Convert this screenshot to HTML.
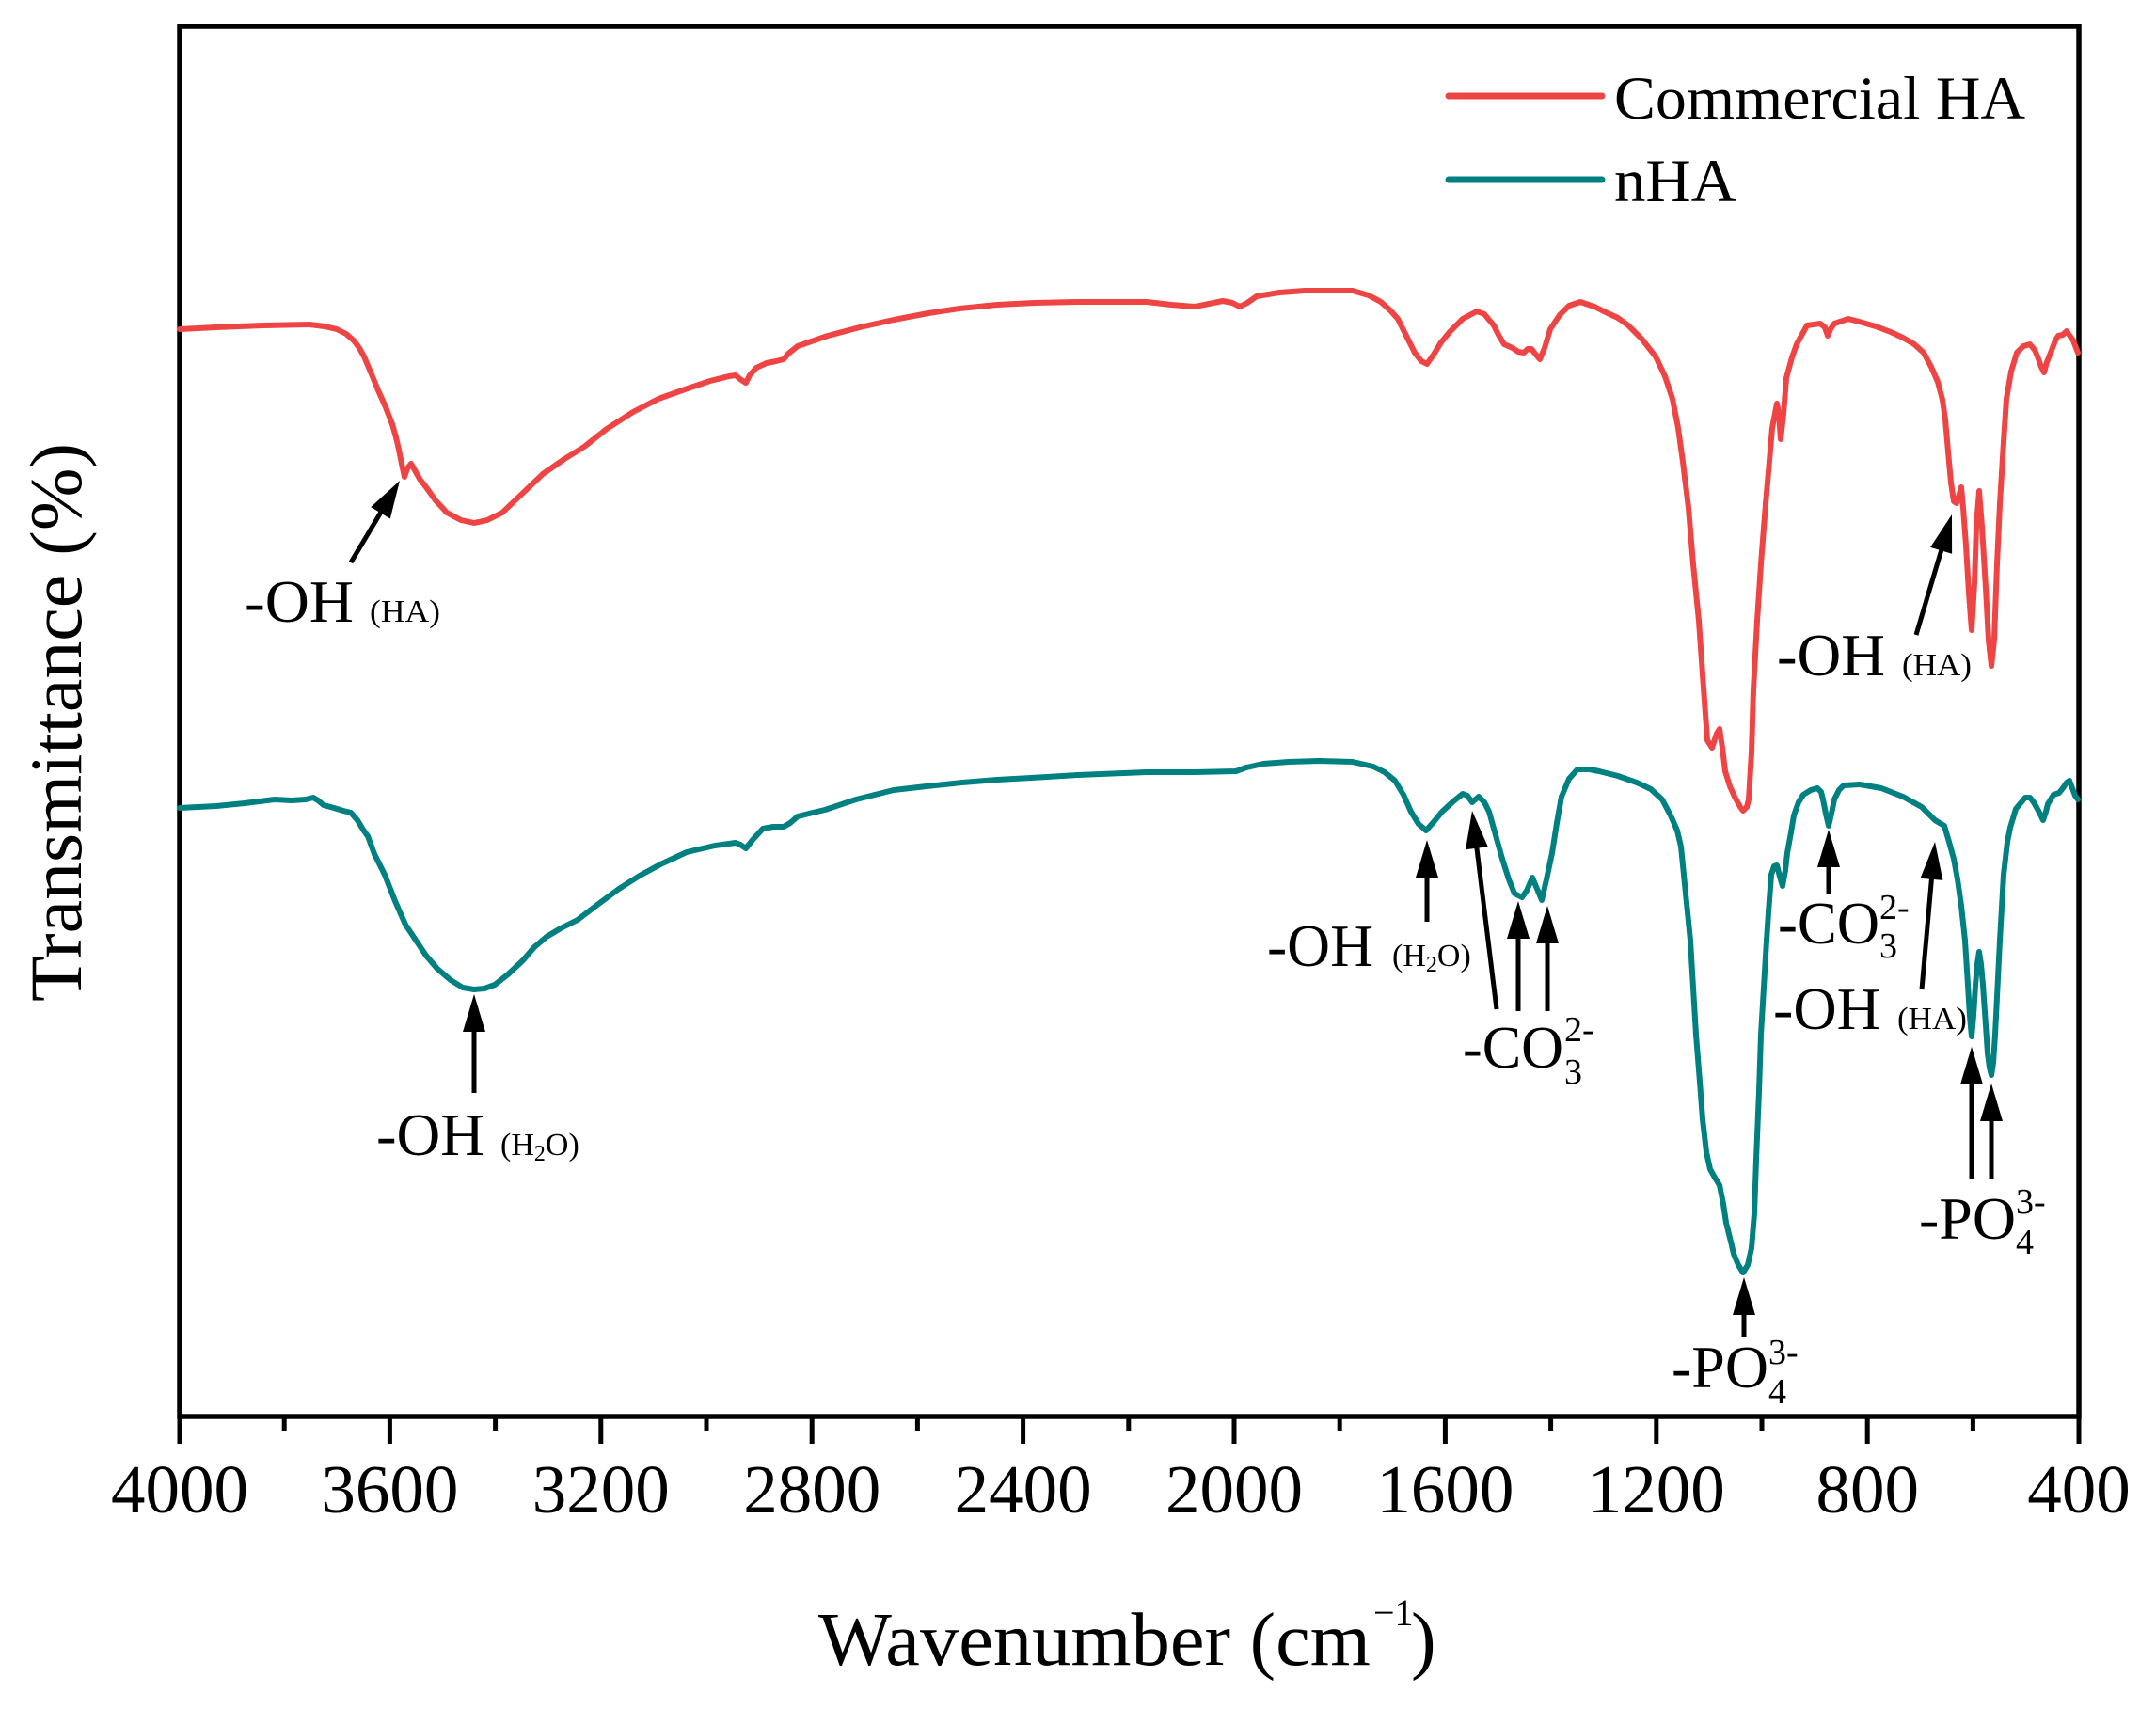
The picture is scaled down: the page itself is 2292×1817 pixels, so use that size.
<!DOCTYPE html>
<html>
<head>
<meta charset="utf-8">
<style>
html,body{margin:0;padding:0;background:#fff;}
svg{display:block;}
text{font-family:"Liberation Serif","DejaVu Serif",serif;fill:#000;}
</style>
</head>
<body>
<svg xmlns="http://www.w3.org/2000/svg" width="2292" height="1817" viewBox="0 0 2292 1817">
<rect x="0" y="0" width="2292" height="1817" fill="#fff"/>

<!-- Frame -->
<rect x="191" y="28" width="2019" height="1478" fill="none" stroke="#000" stroke-width="5.5"/>

<!-- Ticks -->
<g stroke="#000" stroke-width="5">
<line x1="191" y1="1506" x2="191" y2="1535"/>
<line x1="414.4" y1="1506" x2="414.4" y2="1535"/>
<line x1="638.8" y1="1506" x2="638.8" y2="1535"/>
<line x1="863.2" y1="1506" x2="863.2" y2="1535"/>
<line x1="1087.6" y1="1506" x2="1087.6" y2="1535"/>
<line x1="1312" y1="1506" x2="1312" y2="1535"/>
<line x1="1536.4" y1="1506" x2="1536.4" y2="1535"/>
<line x1="1760.8" y1="1506" x2="1760.8" y2="1535"/>
<line x1="1985.2" y1="1506" x2="1985.2" y2="1535"/>
<line x1="2210" y1="1506" x2="2210" y2="1535"/>
<line x1="302.2" y1="1506" x2="302.2" y2="1521"/>
<line x1="526.6" y1="1506" x2="526.6" y2="1521"/>
<line x1="751" y1="1506" x2="751" y2="1521"/>
<line x1="975.4" y1="1506" x2="975.4" y2="1521"/>
<line x1="1199.8" y1="1506" x2="1199.8" y2="1521"/>
<line x1="1424.2" y1="1506" x2="1424.2" y2="1521"/>
<line x1="1648.6" y1="1506" x2="1648.6" y2="1521"/>
<line x1="1873" y1="1506" x2="1873" y2="1521"/>
<line x1="2097.4" y1="1506" x2="2097.4" y2="1521"/>
</g>

<!-- Tick labels -->
<g font-size="73" text-anchor="middle">
<text x="191" y="1608">4000</text>
<text x="414.4" y="1608">3600</text>
<text x="638.8" y="1608">3200</text>
<text x="863.2" y="1608">2800</text>
<text x="1087.6" y="1608">2400</text>
<text x="1312" y="1608">2000</text>
<text x="1536.4" y="1608">1600</text>
<text x="1760.8" y="1608">1200</text>
<text x="1985.2" y="1608">800</text>
<text x="2210" y="1608">400</text>
</g>

<!-- Axis labels -->
<text x="870" y="1770" font-size="80" textLength="587" lengthAdjust="spacingAndGlyphs">Wavenumber (cm</text>
<text x="1460" y="1728" font-size="40">−1</text>
<text x="1500" y="1770" font-size="80">)</text>

<text transform="translate(86,768) rotate(-90)" font-size="78" text-anchor="middle" textLength="594" lengthAdjust="spacingAndGlyphs">Transmittance (%)</text>

<!-- Legend -->
<line x1="1540" y1="102" x2="1703" y2="102" stroke="#EF4444" stroke-width="7" stroke-linecap="round"/>
<text x="1716" y="126" font-size="65" textLength="437" lengthAdjust="spacingAndGlyphs">Commercial HA</text>
<line x1="1540" y1="191" x2="1703" y2="191" stroke="#008080" stroke-width="7" stroke-linecap="round"/>
<text x="1716" y="214" font-size="65" textLength="130" lengthAdjust="spacingAndGlyphs">nHA</text>

<!-- Red curve: Commercial HA -->
<polyline fill="none" stroke="#EF4444" stroke-width="6" stroke-linejoin="round" stroke-linecap="round" points="
191,350 230,348 280,346 329,345 345,347 358,350 368,355 376,362 382,370 387,379 395,398 402,415 410,433 417,451 421,465 424,478 427,493 430,507 433,498 437,493 441,500 446,509 453,518 463,532 475,545 490,553 504,556 518,553 534,545 555,525 577,504 600,488 621,475 645,456 673,438 700,424 731,413 755,405 775,400 782,399 788,404 793,407 797,399 804,391 815,386 825,384 833,382 838,376 848,368 880,357 914,348 950,340 987,333 1020,328 1060,324 1100,322 1146,321 1219,321 1245,324 1270,326 1300,320 1310,322 1318,326 1326,322 1336,315 1360,311 1387,309 1415,309 1438,309 1455,314 1468,321 1478,330 1486,339 1495,357 1504,375 1511,384 1517,387 1524,377 1532,364 1541,353 1555,339 1570,331 1578,334 1588,346 1593,356 1599,366 1608,370 1614,374 1620,375 1624,371 1628,371 1632,376 1637,382 1642,370 1648,350 1658,335 1668,325 1680,321 1695,326 1709,333 1720,338 1731,346 1745,360 1760,379 1770,400 1778,424 1784,455 1789,491 1795,540 1800,600 1806,660 1810,717 1815,787 1820,795 1825,780 1828,775 1831,795 1834,820 1839,836 1844,847 1850,858 1853,862 1857,858 1859,850 1862,800 1864,733 1868,660 1872,600 1877,536 1881,490 1884,455 1889,429 1891,440 1893,467 1896,440 1899,402 1905,380 1910,366 1921,346 1935,344 1940,348 1943,357 1946,350 1950,344 1965,339 1980,343 1994,347 2010,353 2023,359 2035,366 2045,375 2053,390 2060,406 2065,425 2068,446 2071,480 2074,513 2077,533 2080,535 2083,525 2085,518 2087,540 2090,580 2093,630 2096,670 2099,620 2101,560 2104,522 2107,560 2111,625 2114,680 2117,708 2120,680 2123,600 2126,536 2130,470 2133,424 2138,395 2144,375 2151,368 2158,366 2163,372 2166,379 2170,390 2173,396 2176,385 2180,375 2185,362 2188,357 2193,356 2197,352 2199,355 2204,362 2209,375"/>

<!-- Teal curve: nHA -->
<polyline fill="none" stroke="#008080" stroke-width="6" stroke-linejoin="round" stroke-linecap="round" points="
191,859 230,857 260,854 292,850 310,851 325,850 333,848 338,851 344,856 355,859 365,862 373,864 380,872 386,882 391,889 398,908 404,920 409,930 420,958 431,983 441,998 453,1016 465,1030 479,1042 492,1050 504,1052 515,1051 526,1047 540,1036 556,1021 568,1007 581,996 596,987 614,978 635,962 658,945 680,931 702,919 730,906 760,899 775,897 782,896 787,898 793,902 800,893 811,881 822,879 833,879 840,875 848,868 860,865 877,861 910,850 950,840 985,836 1023,832 1060,829 1096,827 1146,824 1219,821 1270,821 1314,820 1325,816 1343,812 1370,810 1402,809 1438,810 1460,815 1472,821 1483,830 1492,845 1500,863 1508,876 1516,883 1524,874 1533,863 1545,852 1555,844 1560,846 1565,853 1572,847 1578,853 1583,863 1590,888 1597,913 1604,935 1610,950 1618,954 1623,947 1629,933 1634,945 1639,957 1644,935 1650,907 1655,875 1660,847 1668,828 1677,818 1690,818 1700,820 1720,825 1740,832 1755,839 1767,850 1776,867 1783,883 1787,900 1791,940 1797,1000 1800,1050 1803,1100 1807,1150 1810,1190 1814,1225 1818,1243 1823,1252 1828,1260 1832,1280 1835,1300 1840,1320 1843,1333 1848,1345 1853,1353 1858,1345 1862,1327 1865,1290 1867,1233 1870,1160 1872,1100 1875,1050 1878,1000 1880,970 1883,930 1886,921 1889,920 1892,932 1895,942 1898,925 1900,907 1904,885 1907,867 1912,853 1917,845 1925,840 1932,838 1936,842 1938,850 1941,865 1944,878 1947,865 1950,850 1955,840 1960,835 1977,834 2000,838 2023,847 2043,858 2057,872 2067,878 2072,895 2077,913 2081,935 2085,963 2089,1000 2092,1047 2094,1080 2096,1102 2098,1080 2100,1047 2102,1025 2104,1012 2106,1025 2108,1047 2111,1090 2113,1120 2115,1135 2117,1143 2119,1130 2121,1100 2123,1060 2126,1000 2130,930 2134,895 2137,880 2143,860 2153,848 2158,848 2162,853 2167,862 2172,872 2175,863 2177,855 2183,845 2189,843 2193,838 2197,832 2200,830 2203,838 2206,846 2209,850"/>

<!-- Arrows -->
<g stroke="#000" stroke-width="5" fill="none">
<!-- red left -->
<line x1="373" y1="598" x2="409.6" y2="536.7"/>
<!-- red right -->
<line x1="2037" y1="675" x2="2066.5" y2="575.8"/>
<!-- teal verticals -->
<line x1="504" y1="1162" x2="504" y2="1090"/>
<line x1="1517" y1="980" x2="1517" y2="926"/>
<line x1="1614" y1="1075" x2="1614" y2="991"/>
<line x1="1645" y1="1075" x2="1645" y2="996"/>
<line x1="1854" y1="1422" x2="1854" y2="1391"/>
<line x1="1944" y1="950" x2="1944" y2="915"/>
<line x1="2096" y1="1253" x2="2096" y2="1146"/>
<line x1="2117" y1="1253" x2="2117" y2="1185"/>
<!-- slanted -->
<line x1="1591" y1="1073" x2="1568.7" y2="891.8"/>
<line x1="2043" y1="1052" x2="2054.3" y2="924.9"/>
</g>
<g fill="#000">
<polygon points="425,511 414.8,551.5 394.2,539.1"/>
<polygon points="2075,547 2075.1,588.8 2052.1,581.9"/>
<polygon points="504,1057 492,1097 516,1097"/>
<polygon points="1517,893 1505,933 1529,933"/>
<polygon points="1614,958 1602,998 1626,998"/>
<polygon points="1645,963 1633,1003 1657,1003"/>
<polygon points="1854,1358 1842,1398 1866,1398"/>
<polygon points="1944,882 1932,922 1956,922"/>
<polygon points="2096,1113 2084,1153 2108,1153"/>
<polygon points="2117,1152 2105,1192 2129,1192"/>
<polygon points="1565,862 1581.8,900.2 1558,903.2"/>
<polygon points="2057,895 2065.4,935.9 2041.5,933.7"/>
</g>

<!-- Annotation labels -->
<g font-size="63">
<!-- red left -OH(HA) -->
<text x="260" y="661" textLength="116" lengthAdjust="spacingAndGlyphs">-OH</text>
<text x="393" y="661" font-size="34" textLength="75" lengthAdjust="spacingAndGlyphs">(HA)</text>

<!-- red right -OH(HA) -->
<text x="1889" y="718" textLength="115" lengthAdjust="spacingAndGlyphs">-OH</text>
<text x="2022" y="718" font-size="34" textLength="74" lengthAdjust="spacingAndGlyphs">(HA)</text>

<!-- teal left -OH(H2O) -->
<text x="400" y="1228" textLength="115" lengthAdjust="spacingAndGlyphs">-OH</text>
<text x="532" y="1228" font-size="34">(H<tspan font-size="24" dy="6">2</tspan><tspan dy="-6">O)</tspan></text>

<!-- teal -OH(H2O) at 1640 -->
<text x="1347" y="1027" textLength="113" lengthAdjust="spacingAndGlyphs">-OH</text>
<text x="1480" y="1027" font-size="34">(H<tspan font-size="24" dy="6">2</tspan><tspan dy="-6">O)</tspan></text>

<!-- teal CO3 mid -->
<text x="1555" y="1135" textLength="107" lengthAdjust="spacingAndGlyphs">-CO</text>
<text x="1663" y="1107" font-size="38">2-</text>
<text x="1663" y="1152" font-size="38">3</text>

<!-- teal PO4 center -->
<text x="1777" y="1475" textLength="103" lengthAdjust="spacingAndGlyphs">-PO</text>
<text x="1880" y="1450" font-size="38">3-</text>
<text x="1880" y="1492" font-size="38">4</text>

<!-- teal CO3 right -->
<text x="1890" y="1003" textLength="108" lengthAdjust="spacingAndGlyphs">-CO</text>
<text x="1998" y="977" font-size="38">2-</text>
<text x="1998" y="1018" font-size="38">3</text>

<!-- teal OH(HA) right -->
<text x="1885" y="1094" textLength="114" lengthAdjust="spacingAndGlyphs">-OH</text>
<text x="2017" y="1094" font-size="34" textLength="74" lengthAdjust="spacingAndGlyphs">(HA)</text>

<!-- teal PO4 right -->
<text x="2040" y="1317" textLength="103" lengthAdjust="spacingAndGlyphs">-PO</text>
<text x="2143" y="1290" font-size="38">3-</text>
<text x="2143" y="1333" font-size="38">4</text>
</g>
</svg>
</body>
</html>
